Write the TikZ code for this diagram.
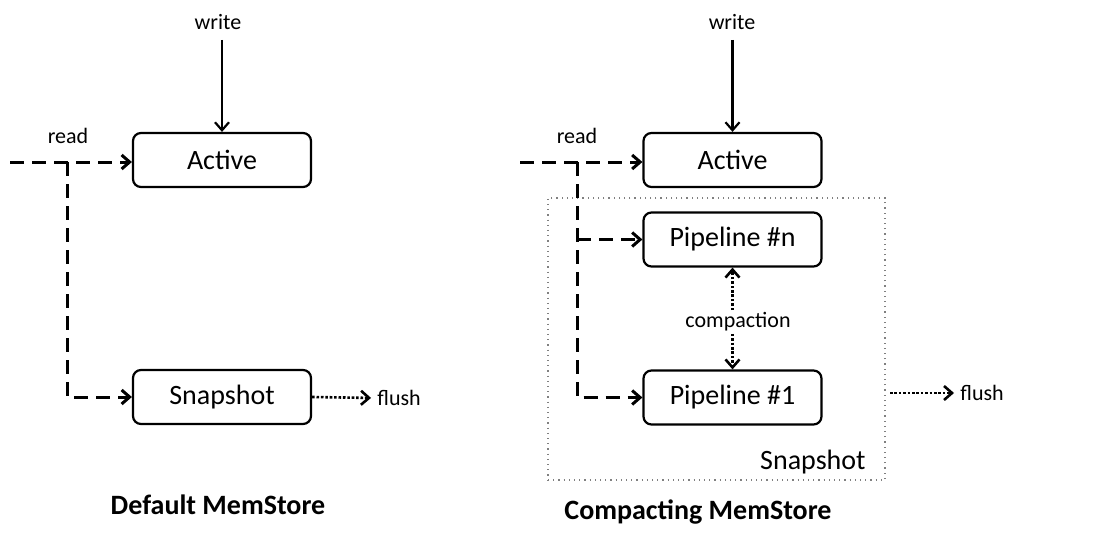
\documentclass[tikz,border=0pt]{standalone}
\usepackage{fontspec}
\setmainfont{Carlito}
\usepackage{tikz}
\usetikzlibrary{arrows.meta, positioning}

\begin{document}
\begin{tikzpicture}[x=0.5pt, y=-0.5pt, >={Straight Barb[length=4pt,width=7pt]},
  box/.style={draw, line width=1.1pt, rounded corners=4pt, minimum width=89pt, minimum height=27pt, font=\fontsize{14pt}{16pt}\selectfont},
  lbl/.style={font=\fontsize{11pt}{13pt}\selectfont, inner sep=1pt},
  ttl/.style={font=\fontsize{14pt}{16pt}\selectfont\bfseries},
  wr/.style={->, line width=1.1pt},
  rd/.style={->, line width=1.5pt, dash pattern=on 7pt off 4pt},
  fl/.style={->, line width=1.3pt, dash pattern=on 1.3pt off 0.9pt}]

  \useasboundingbox (0,0) rectangle (1096,535);

  % --- DEFAULT MEMSTORE ---
  \node[box] (act1) at (222,160) {Active};
  \node[box] (snap1) at (222,397) {Snapshot};
  \node[lbl] (w1) at (218,22) {write};
  \node[lbl] (rl1) at (68,136) {read};
  \node[lbl, anchor=west] (fl1) at (375,398) {flush};
  \coordinate (r1) at (10,162);
  \coordinate (j1) at (67,162);

  \draw[wr] (act1.north |- 0,40) -- (act1.north);
  \draw[rd] (r1) -- (r1 -| act1.west);
  \draw[rd] (j1) |- (snap1.west);
  \draw[fl, shorten >=2pt] (snap1.east) -- (fl1.west);
  \node[ttl] (t1) at (218,505) {Default MemStore};

  % --- COMPACTING MEMSTORE ---
  \node[draw, dotted, gray, line width=0.6pt, minimum width=168.5pt, minimum height=141pt] (sbox) at (716.5,339) {};
  \node[lbl, font=\fontsize{14pt}{16pt}\selectfont, anchor=south east] (slbl) at (868,476) {Snapshot};

  \node[box] (act2) at (732.5,160) {Active};
  \node[box] (pn) at (732.5,239.5) {Pipeline \#n};
  \node[box] (p1) at (732.5,397.5) {Pipeline \#1};
  \node[lbl] (w2) at (732,22) {write};
  \node[lbl] (rl2) at (577,136) {read};
  \node[lbl] (cmp) at (738,322) {compaction};
  \node[lbl, anchor=west] (fl2) at (958,393) {flush};
  \coordinate (r2) at (520,162);
  \coordinate (j2) at (577,162);
  \coordinate (f2) at (890,393);

  \draw[wr] (act2.north |- 0,40) -- (act2.north);
  \draw[rd] (r2) -- (r2 -| act2.west);
  \draw[rd] (j2) |- (p1.west);
  \draw[rd] (j2 |- pn.west) -- (pn.west);
  % compaction arrows
  \draw[fl] (pn.south |- cmp.north) -- (pn.south);
  \draw[fl] (p1.north |- cmp.south) -- (p1.north);
  \draw[fl, shorten >=2pt] (f2) -- (fl2.west);
  \node[ttl] (t2) at (698,512) {Compacting MemStore};
\end{tikzpicture}
\end{document}
